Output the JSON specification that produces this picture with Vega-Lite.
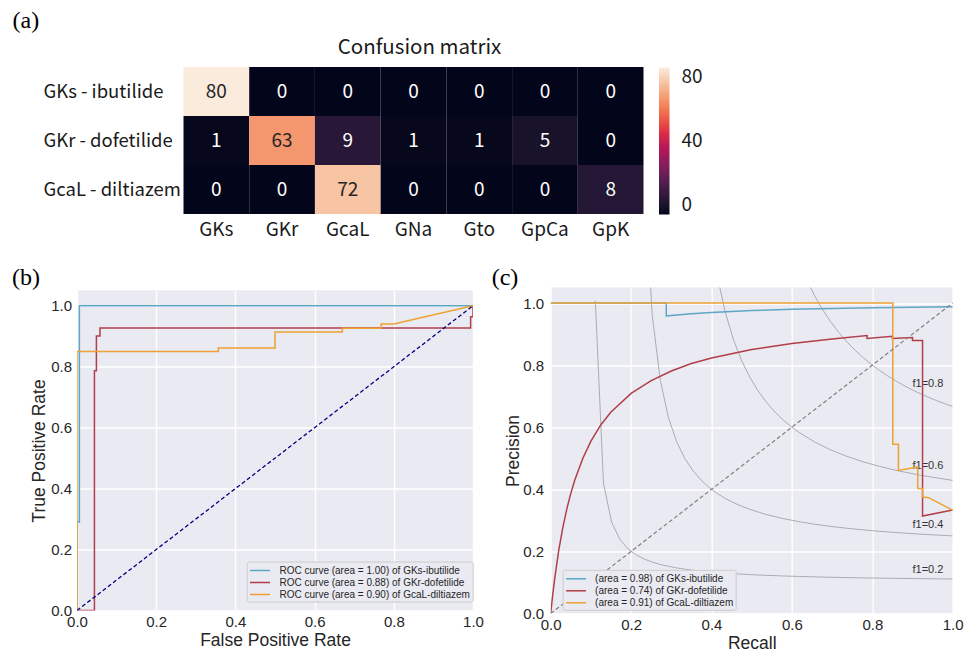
{
  "$schema": "https://vega.github.io/schema/vega-lite/v6.json",
  "padding": {"left": 12, "top": 8, "right": 4, "bottom": 0},
  "background": "white",
  "config": {
    "view": {"stroke": null},
    "axis": {"domain": false, "ticks": false, "labelFont": "Liberation Sans", "titleFont": "Liberation Sans", "labelColor": "#262626", "titleColor": "#262626", "titleFontWeight": "normal"},
    "legend": {"labelFont": "Liberation Sans"}
  },
  "datasets": {
    "heat": [
      {"actual": "GKs - ibutilide", "pred": "GKs", "count": 80},
      {"actual": "GKs - ibutilide", "pred": "GKr", "count": 0},
      {"actual": "GKs - ibutilide", "pred": "GcaL", "count": 0},
      {"actual": "GKs - ibutilide", "pred": "GNa", "count": 0},
      {"actual": "GKs - ibutilide", "pred": "Gto", "count": 0},
      {"actual": "GKs - ibutilide", "pred": "GpCa", "count": 0},
      {"actual": "GKs - ibutilide", "pred": "GpK", "count": 0},
      {"actual": "GKr - dofetilide", "pred": "GKs", "count": 1},
      {"actual": "GKr - dofetilide", "pred": "GKr", "count": 63},
      {"actual": "GKr - dofetilide", "pred": "GcaL", "count": 9},
      {"actual": "GKr - dofetilide", "pred": "GNa", "count": 1},
      {"actual": "GKr - dofetilide", "pred": "Gto", "count": 1},
      {"actual": "GKr - dofetilide", "pred": "GpCa", "count": 5},
      {"actual": "GKr - dofetilide", "pred": "GpK", "count": 0},
      {"actual": "GcaL - diltiazem", "pred": "GKs", "count": 0},
      {"actual": "GcaL - diltiazem", "pred": "GKr", "count": 0},
      {"actual": "GcaL - diltiazem", "pred": "GcaL", "count": 72},
      {"actual": "GcaL - diltiazem", "pred": "GNa", "count": 0},
      {"actual": "GcaL - diltiazem", "pred": "Gto", "count": 0},
      {"actual": "GcaL - diltiazem", "pred": "GpCa", "count": 0},
      {"actual": "GcaL - diltiazem", "pred": "GpK", "count": 8}
    ],
    "roc": [
      {"series": "ROC curve (area = 1.00) of GKs-ibutilide", "i": 0, "fpr": 0, "tpr": 0},
      {"series": "ROC curve (area = 1.00) of GKs-ibutilide", "i": 1, "fpr": 0, "tpr": 0.29},
      {"series": "ROC curve (area = 1.00) of GKs-ibutilide", "i": 2, "fpr": 0.006, "tpr": 0.29},
      {"series": "ROC curve (area = 1.00) of GKs-ibutilide", "i": 3, "fpr": 0.006, "tpr": 1.0},
      {"series": "ROC curve (area = 1.00) of GKs-ibutilide", "i": 4, "fpr": 1.0, "tpr": 1.0},
      {"series": "ROC curve (area = 0.88) of GKr-dofetilide", "i": 0, "fpr": 0, "tpr": 0},
      {"series": "ROC curve (area = 0.88) of GKr-dofetilide", "i": 1, "fpr": 0.044, "tpr": 0},
      {"series": "ROC curve (area = 0.88) of GKr-dofetilide", "i": 2, "fpr": 0.044, "tpr": 0.787},
      {"series": "ROC curve (area = 0.88) of GKr-dofetilide", "i": 3, "fpr": 0.049, "tpr": 0.787},
      {"series": "ROC curve (area = 0.88) of GKr-dofetilide", "i": 4, "fpr": 0.049, "tpr": 0.901},
      {"series": "ROC curve (area = 0.88) of GKr-dofetilide", "i": 5, "fpr": 0.058, "tpr": 0.901},
      {"series": "ROC curve (area = 0.88) of GKr-dofetilide", "i": 6, "fpr": 0.058, "tpr": 0.927},
      {"series": "ROC curve (area = 0.88) of GKr-dofetilide", "i": 7, "fpr": 0.994, "tpr": 0.927},
      {"series": "ROC curve (area = 0.88) of GKr-dofetilide", "i": 8, "fpr": 0.994, "tpr": 0.964},
      {"series": "ROC curve (area = 0.88) of GKr-dofetilide", "i": 9, "fpr": 1.0, "tpr": 0.964},
      {"series": "ROC curve (area = 0.88) of GKr-dofetilide", "i": 10, "fpr": 1.0, "tpr": 1.0},
      {"series": "ROC curve (area = 0.90) of GcaL-diltiazem", "i": 0, "fpr": 0, "tpr": 0},
      {"series": "ROC curve (area = 0.90) of GcaL-diltiazem", "i": 1, "fpr": 0, "tpr": 0.85},
      {"series": "ROC curve (area = 0.90) of GcaL-diltiazem", "i": 2, "fpr": 0.357, "tpr": 0.85},
      {"series": "ROC curve (area = 0.90) of GcaL-diltiazem", "i": 3, "fpr": 0.357, "tpr": 0.861},
      {"series": "ROC curve (area = 0.90) of GcaL-diltiazem", "i": 4, "fpr": 0.5, "tpr": 0.861},
      {"series": "ROC curve (area = 0.90) of GcaL-diltiazem", "i": 5, "fpr": 0.5, "tpr": 0.914},
      {"series": "ROC curve (area = 0.90) of GcaL-diltiazem", "i": 6, "fpr": 0.67, "tpr": 0.914},
      {"series": "ROC curve (area = 0.90) of GcaL-diltiazem", "i": 7, "fpr": 0.67, "tpr": 0.926},
      {"series": "ROC curve (area = 0.90) of GcaL-diltiazem", "i": 8, "fpr": 0.768, "tpr": 0.926},
      {"series": "ROC curve (area = 0.90) of GcaL-diltiazem", "i": 9, "fpr": 0.768, "tpr": 0.94},
      {"series": "ROC curve (area = 0.90) of GcaL-diltiazem", "i": 10, "fpr": 0.8, "tpr": 0.94},
      {"series": "ROC curve (area = 0.90) of GcaL-diltiazem", "i": 11, "fpr": 1.0, "tpr": 1.0}
    ],
    "pr": [
      {"series": "(area = 0.98) of GKs-ibutilide", "i": 0, "r": 0, "p": 1.0},
      {"series": "(area = 0.98) of GKs-ibutilide", "i": 1, "r": 0.2875, "p": 1.0},
      {"series": "(area = 0.98) of GKs-ibutilide", "i": 2, "r": 0.2875, "p": 0.9583},
      {"series": "(area = 0.98) of GKs-ibutilide", "i": 3, "r": 0.3, "p": 0.96},
      {"series": "(area = 0.98) of GKs-ibutilide", "i": 4, "r": 0.35, "p": 0.9655},
      {"series": "(area = 0.98) of GKs-ibutilide", "i": 5, "r": 0.4, "p": 0.9697},
      {"series": "(area = 0.98) of GKs-ibutilide", "i": 6, "r": 0.5, "p": 0.9756},
      {"series": "(area = 0.98) of GKs-ibutilide", "i": 7, "r": 0.6, "p": 0.9796},
      {"series": "(area = 0.98) of GKs-ibutilide", "i": 8, "r": 0.7, "p": 0.9825},
      {"series": "(area = 0.98) of GKs-ibutilide", "i": 9, "r": 0.8, "p": 0.9846},
      {"series": "(area = 0.98) of GKs-ibutilide", "i": 10, "r": 0.9, "p": 0.9863},
      {"series": "(area = 0.98) of GKs-ibutilide", "i": 11, "r": 1.0, "p": 0.9877},
      {"series": "(area = 0.74) of GKr-dofetilide", "i": 0, "r": 0, "p": 0},
      {"series": "(area = 0.74) of GKr-dofetilide", "i": 1, "r": 0.005, "p": 0.06},
      {"series": "(area = 0.74) of GKr-dofetilide", "i": 2, "r": 0.01, "p": 0.113},
      {"series": "(area = 0.74) of GKr-dofetilide", "i": 3, "r": 0.02, "p": 0.203},
      {"series": "(area = 0.74) of GKr-dofetilide", "i": 4, "r": 0.03, "p": 0.276},
      {"series": "(area = 0.74) of GKr-dofetilide", "i": 5, "r": 0.04, "p": 0.336},
      {"series": "(area = 0.74) of GKr-dofetilide", "i": 6, "r": 0.05, "p": 0.387},
      {"series": "(area = 0.74) of GKr-dofetilide", "i": 7, "r": 0.06, "p": 0.43},
      {"series": "(area = 0.74) of GKr-dofetilide", "i": 8, "r": 0.08, "p": 0.5},
      {"series": "(area = 0.74) of GKr-dofetilide", "i": 9, "r": 0.1, "p": 0.555},
      {"series": "(area = 0.74) of GKr-dofetilide", "i": 10, "r": 0.125, "p": 0.608},
      {"series": "(area = 0.74) of GKr-dofetilide", "i": 11, "r": 0.15, "p": 0.649},
      {"series": "(area = 0.74) of GKr-dofetilide", "i": 12, "r": 0.2, "p": 0.709},
      {"series": "(area = 0.74) of GKr-dofetilide", "i": 13, "r": 0.25, "p": 0.75},
      {"series": "(area = 0.74) of GKr-dofetilide", "i": 14, "r": 0.3, "p": 0.781},
      {"series": "(area = 0.74) of GKr-dofetilide", "i": 15, "r": 0.35, "p": 0.805},
      {"series": "(area = 0.74) of GKr-dofetilide", "i": 16, "r": 0.4, "p": 0.823},
      {"series": "(area = 0.74) of GKr-dofetilide", "i": 17, "r": 0.5, "p": 0.85},
      {"series": "(area = 0.74) of GKr-dofetilide", "i": 18, "r": 0.6, "p": 0.87},
      {"series": "(area = 0.74) of GKr-dofetilide", "i": 19, "r": 0.7, "p": 0.884},
      {"series": "(area = 0.74) of GKr-dofetilide", "i": 20, "r": 0.787, "p": 0.895},
      {"series": "(area = 0.74) of GKr-dofetilide", "i": 21, "r": 0.787, "p": 0.886},
      {"series": "(area = 0.74) of GKr-dofetilide", "i": 22, "r": 0.85, "p": 0.893},
      {"series": "(area = 0.74) of GKr-dofetilide", "i": 23, "r": 0.85, "p": 0.886},
      {"series": "(area = 0.74) of GKr-dofetilide", "i": 24, "r": 0.9, "p": 0.889},
      {"series": "(area = 0.74) of GKr-dofetilide", "i": 25, "r": 0.9, "p": 0.879},
      {"series": "(area = 0.74) of GKr-dofetilide", "i": 26, "r": 0.925, "p": 0.879},
      {"series": "(area = 0.74) of GKr-dofetilide", "i": 27, "r": 0.925, "p": 0.314},
      {"series": "(area = 0.74) of GKr-dofetilide", "i": 28, "r": 1.0, "p": 0.333},
      {"series": "(area = 0.91) of GcaL-diltiazem", "i": 0, "r": 0, "p": 1.0},
      {"series": "(area = 0.91) of GcaL-diltiazem", "i": 1, "r": 0.851, "p": 1.0},
      {"series": "(area = 0.91) of GcaL-diltiazem", "i": 2, "r": 0.851, "p": 0.545},
      {"series": "(area = 0.91) of GcaL-diltiazem", "i": 3, "r": 0.865, "p": 0.545},
      {"series": "(area = 0.91) of GcaL-diltiazem", "i": 4, "r": 0.865, "p": 0.461},
      {"series": "(area = 0.91) of GcaL-diltiazem", "i": 5, "r": 0.913, "p": 0.472},
      {"series": "(area = 0.91) of GcaL-diltiazem", "i": 6, "r": 0.913, "p": 0.403},
      {"series": "(area = 0.91) of GcaL-diltiazem", "i": 7, "r": 0.925, "p": 0.403},
      {"series": "(area = 0.91) of GcaL-diltiazem", "i": 8, "r": 0.925, "p": 0.375},
      {"series": "(area = 0.91) of GcaL-diltiazem", "i": 9, "r": 0.94, "p": 0.373},
      {"series": "(area = 0.91) of GcaL-diltiazem", "i": 10, "r": 1.0, "p": 0.333}
    ],
    "f1": [
      {"f": "0.2", "r": 0.1110, "p": 1.0074}, {"f": "0.2", "r": 0.1312, "p": 0.4203}, {"f": "0.2", "r": 0.1514, "p": 0.2944},
      {"f": "0.2", "r": 0.1716, "p": 0.2396}, {"f": "0.2", "r": 0.1918, "p": 0.2089}, {"f": "0.2", "r": 0.2120, "p": 0.1893},
      {"f": "0.2", "r": 0.2322, "p": 0.1756}, {"f": "0.2", "r": 0.2524, "p": 0.1656}, {"f": "0.2", "r": 0.2727, "p": 0.1579},
      {"f": "0.2", "r": 0.2929, "p": 0.1519}, {"f": "0.2", "r": 0.3131, "p": 0.1469}, {"f": "0.2", "r": 0.3333, "p": 0.1429},
      {"f": "0.2", "r": 0.3535, "p": 0.1395}, {"f": "0.2", "r": 0.3737, "p": 0.1365}, {"f": "0.2", "r": 0.3939, "p": 0.1340},
      {"f": "0.2", "r": 0.4141, "p": 0.1318}, {"f": "0.2", "r": 0.4545, "p": 0.1282}, {"f": "0.2", "r": 0.4949, "p": 0.1253},
      {"f": "0.2", "r": 0.5353, "p": 0.1230}, {"f": "0.2", "r": 0.5757, "p": 0.1210}, {"f": "0.2", "r": 0.6161, "p": 0.1194},
      {"f": "0.2", "r": 0.6767, "p": 0.1173}, {"f": "0.2", "r": 0.7373, "p": 0.1157}, {"f": "0.2", "r": 0.7980, "p": 0.1143},
      {"f": "0.2", "r": 0.8586, "p": 0.1132}, {"f": "0.2", "r": 0.9192, "p": 0.1122}, {"f": "0.2", "r": 1.0, "p": 0.1111},
      {"f": "0.4", "r": 0.2120, "p": 3.522}, {"f": "0.4", "r": 0.2322, "p": 1.4405}, {"f": "0.4", "r": 0.2524, "p": 0.9627},
      {"f": "0.4", "r": 0.2727, "p": 0.7506}, {"f": "0.4", "r": 0.2929, "p": 0.6308}, {"f": "0.4", "r": 0.3131, "p": 0.5538},
      {"f": "0.4", "r": 0.3333, "p": 0.5002}, {"f": "0.4", "r": 0.3535, "p": 0.4606}, {"f": "0.4", "r": 0.3737, "p": 0.4303},
      {"f": "0.4", "r": 0.3939, "p": 0.4063}, {"f": "0.4", "r": 0.4141, "p": 0.3869}, {"f": "0.4", "r": 0.4343, "p": 0.3707},
      {"f": "0.4", "r": 0.4545, "p": 0.3572}, {"f": "0.4", "r": 0.4747, "p": 0.3456}, {"f": "0.4", "r": 0.4949, "p": 0.3356},
      {"f": "0.4", "r": 0.5353, "p": 0.3193}, {"f": "0.4", "r": 0.5757, "p": 0.3065}, {"f": "0.4", "r": 0.6161, "p": 0.2961},
      {"f": "0.4", "r": 0.6565, "p": 0.2876}, {"f": "0.4", "r": 0.6969, "p": 0.2805}, {"f": "0.4", "r": 0.7373, "p": 0.2744},
      {"f": "0.4", "r": 0.7980, "p": 0.2669}, {"f": "0.4", "r": 0.8586, "p": 0.2607}, {"f": "0.4", "r": 0.9192, "p": 0.2556},
      {"f": "0.4", "r": 1.0, "p": 0.25},
      {"f": "0.6", "r": 0.3131, "p": 7.191}, {"f": "0.6", "r": 0.3333, "p": 3.0056}, {"f": "0.6", "r": 0.3535, "p": 1.9832},
      {"f": "0.6", "r": 0.3737, "p": 1.5216}, {"f": "0.6", "r": 0.3939, "p": 1.2587}, {"f": "0.6", "r": 0.4141, "p": 1.0889},
      {"f": "0.6", "r": 0.4343, "p": 0.9702}, {"f": "0.6", "r": 0.4545, "p": 0.8826}, {"f": "0.6", "r": 0.4747, "p": 0.8152},
      {"f": "0.6", "r": 0.4949, "p": 0.7618}, {"f": "0.6", "r": 0.5151, "p": 0.7184}, {"f": "0.6", "r": 0.5353, "p": 0.6825},
      {"f": "0.6", "r": 0.5555, "p": 0.6522}, {"f": "0.6", "r": 0.5757, "p": 0.6264}, {"f": "0.6", "r": 0.5959, "p": 0.6041},
      {"f": "0.6", "r": 0.6161, "p": 0.5847}, {"f": "0.6", "r": 0.6565, "p": 0.5524}, {"f": "0.6", "r": 0.6969, "p": 0.5267},
      {"f": "0.6", "r": 0.7373, "p": 0.5058}, {"f": "0.6", "r": 0.7778, "p": 0.4884}, {"f": "0.6", "r": 0.8182, "p": 0.4737},
      {"f": "0.6", "r": 0.8586, "p": 0.4611}, {"f": "0.6", "r": 0.9192, "p": 0.4454}, {"f": "0.6", "r": 1.0, "p": 0.4286},
      {"f": "0.8", "r": 0.4141, "p": 11.762}, {"f": "0.8", "r": 0.4343, "p": 5.0666}, {"f": "0.8", "r": 0.4545, "p": 3.3363},
      {"f": "0.8", "r": 0.4747, "p": 2.5421}, {"f": "0.8", "r": 0.4949, "p": 2.0860}, {"f": "0.8", "r": 0.5151, "p": 1.7901},
      {"f": "0.8", "r": 0.5353, "p": 1.5825}, {"f": "0.8", "r": 0.5555, "p": 1.4289}, {"f": "0.8", "r": 0.5757, "p": 1.3106},
      {"f": "0.8", "r": 0.5959, "p": 1.2167}, {"f": "0.8", "r": 0.6161, "p": 1.1403}, {"f": "0.8", "r": 0.6363, "p": 1.0770},
      {"f": "0.8", "r": 0.6565, "p": 1.0237}, {"f": "0.8", "r": 0.6767, "p": 0.9782}, {"f": "0.8", "r": 0.6969, "p": 0.9388},
      {"f": "0.8", "r": 0.7171, "p": 0.9045}, {"f": "0.8", "r": 0.7373, "p": 0.8743}, {"f": "0.8", "r": 0.7576, "p": 0.8475},
      {"f": "0.8", "r": 0.7778, "p": 0.8236}, {"f": "0.8", "r": 0.7980, "p": 0.8020}, {"f": "0.8", "r": 0.8182, "p": 0.7826},
      {"f": "0.8", "r": 0.8384, "p": 0.7650}, {"f": "0.8", "r": 0.8586, "p": 0.7489}, {"f": "0.8", "r": 0.8788, "p": 0.7342},
      {"f": "0.8", "r": 0.8990, "p": 0.7207}, {"f": "0.8", "r": 0.9192, "p": 0.7082}, {"f": "0.8", "r": 0.9394, "p": 0.6966},
      {"f": "0.8", "r": 0.9596, "p": 0.6859}, {"f": "0.8", "r": 0.9798, "p": 0.6760}, {"f": "0.8", "r": 1.0, "p": 0.6667}
    ],
    "f1lab": [
      {"label": "f1=0.2", "r": 0.9, "p": 0.132},
      {"label": "f1=0.4", "r": 0.9, "p": 0.2756},
      {"label": "f1=0.6", "r": 0.9, "p": 0.4654},
      {"label": "f1=0.8", "r": 0.9, "p": 0.7282}
    ]
  },
  "bounds": "flush",
  "spacing": 73.5,
  "resolve": {"scale": {"color": "independent"}, "legend": {"color": "independent"}},
  "vconcat": [
    {
      "width": 566.5,
      "height": 147,
      "data": {"name": "heat"},
      "encoding": {
        "x": {"field": "pred", "type": "nominal", "title": "Confusion matrix", "sort": ["GKs", "GKr", "GcaL", "GNa", "Gto", "GpCa", "GpK"], "scale": {"paddingInner": 0, "paddingOuter": 0, "range": [106.5, 566.5]},
              "axis": {"orient": "bottom", "labelAngle": 0, "labelPadding": 6, "labelFont": "Noto Sans CJK KR", "labelFontSize": 19, "labelColor": "#1a1a1a", "grid": false, "domain": false, "ticks": false,
                       "titleX": 342, "titleY": -160.5, "titleAngle": 0, "titleAlign": "center", "titleBaseline": "alphabetic", "titleFont": "Noto Sans CJK KR", "titleFontSize": 20.5, "titleFontWeight": "normal", "titleColor": "#1a1a1a"}},
        "y": {"field": "actual", "type": "nominal", "title": "(a)", "sort": ["GKs - ibutilide", "GKr - dofetilide", "GcaL - diltiazem"], "scale": {"paddingInner": 0, "paddingOuter": 0},
              "axis": {"labelAlign": "left", "labelPadding": 34, "labelFont": "Noto Sans CJK KR", "labelFontSize": 18.5, "labelColor": "#1a1a1a", "labelLimit": 300, "grid": false, "domain": false, "ticks": false,
                       "titleX": -65, "titleY": -39.5, "titleAngle": 0, "titleAlign": "left", "titleBaseline": "alphabetic", "titleFont": "Liberation Serif", "titleFontSize": 24, "titleFontWeight": "normal", "titleColor": "#000000"}}
      },
      "layer": [
        {
          "mark": {"type": "rect"},
          "encoding": {
            "color": {"field": "count", "type": "quantitative",
              "scale": {"domain": [0, 11.4286, 22.8571, 34.2857, 45.7143, 57.1429, 68.5714, 80], "range": ["#03051A", "#35193E", "#701F57", "#AD1759", "#E13342", "#F37651", "#F6B48F", "#FAEBDD"]},
              "legend": {"orient": "none", "legendX": 582, "legendY": 0.5, "direction": "vertical", "title": null, "gradientLength": 147, "gradientThickness": 10.5, "gradientStrokeWidth": 0, "values": [0, 40, 80], "labelFont": "Noto Sans CJK KR", "labelFontSize": 19, "labelColor": "#1a1a1a", "labelOffset": 12}}
          }
        },
        {
          "mark": {"type": "text", "font": "Noto Sans CJK KR", "fontSize": 19},
          "encoding": {
            "text": {"field": "count", "type": "quantitative"},
            "color": {"condition": {"test": "datum.count > 40", "value": "#262626"}, "value": "#ffffff"}
          }
        }
      ]
    },
    {
      "bounds": "flush",
      "spacing": 77.7,
      "center": true,
      "resolve": {"scale": {"color": "independent"}, "legend": {"color": "independent"}},
      "hconcat": [
        {
          "width": 396,
          "height": 320,
          "view": {"fill": "#EAEAF2", "stroke": null},
          "title": {"text": "(b)", "anchor": "start", "frame": "group", "orient": "top", "offset": 0, "dy": 18, "dx": -65, "baseline": "alphabetic", "font": "Liberation Serif", "fontSize": 24, "fontWeight": "normal", "color": "#000000"},
          "layer": [
            {
              "data": {"name": "roc"},
              "mark": {"type": "line", "strokeWidth": 1.5, "clip": true},
              "encoding": {
                "x": {"field": "fpr", "type": "quantitative", "title": "False Positive Rate", "scale": {"domain": [0, 1], "nice": false},
                      "axis": {"values": [0, 0.2, 0.4, 0.6, 0.8, 1.0], "format": ".1f", "grid": true, "gridColor": "#ffffff", "gridWidth": 1.3, "labelFontSize": 15, "titleFontSize": 17.5, "labelPadding": 4, "titlePadding": 2.2, "labelFlush": false, "labelOverlap": false}},
                "y": {"field": "tpr", "type": "quantitative", "title": "True Positive Rate", "scale": {"domain": [0, 1.05], "nice": false},
                      "axis": {"values": [0, 0.2, 0.4, 0.6, 0.8, 1.0], "format": ".1f", "grid": true, "gridColor": "#ffffff", "gridWidth": 1.3, "labelFontSize": 15, "titleFontSize": 17.5, "labelPadding": 5.5, "titlePadding": 2, "labelFlush": false, "labelOverlap": false}},
                "color": {"field": "series", "type": "nominal",
                  "scale": {"domain": ["ROC curve (area = 1.00) of GKs-ibutilide", "ROC curve (area = 0.88) of GKr-dofetilide", "ROC curve (area = 0.90) of GcaL-diltiazem"], "range": ["#5DA6C6", "#B13F49", "#EFA131"]},
                  "legend": {"orient": "none", "legendX": 169.7, "legendY": 271, "title": null, "symbolType": "M-1.6,0H1.6", "symbolSize": 156, "symbolStrokeWidth": 1.5, "labelFont": "Liberation Sans", "labelFontSize": 10, "labelColor": "#262626", "labelLimit": 300, "padding": 2, "rowPadding": 0, "symbolOffset": 4.3, "labelOffset": 12.5, "fillColor": "#EAEAF2", "strokeColor": "#CCCCCC", "cornerRadius": 2}},
                "order": {"field": "i", "type": "quantitative"}
              }
            },
            {
              "data": {"values": [{"fpr": 0, "tpr": 0}, {"fpr": 1, "tpr": 1}]},
              "mark": {"type": "line", "color": "#000080", "strokeWidth": 1.3, "strokeDash": [4, 2.5], "clip": true},
              "encoding": {
                "x": {"field": "fpr", "type": "quantitative", "title": "False Positive Rate"},
                "y": {"field": "tpr", "type": "quantitative", "title": "True Positive Rate"}
              }
            }
          ]
        },
        {
          "width": 402,
          "height": 326,
          "view": {"fill": "#EAEAF2", "stroke": null},
          "title": {"text": "(c)", "anchor": "start", "frame": "group", "orient": "top", "offset": 0, "dy": 21, "dx": -59, "baseline": "alphabetic", "font": "Liberation Serif", "fontSize": 24, "fontWeight": "normal", "color": "#000000"},
          "layer": [
            {
              "data": {"name": "f1"},
              "mark": {"type": "line", "color": "#ABABB3", "strokeWidth": 1, "clip": true},
              "encoding": {
                "x": {"field": "r", "type": "quantitative", "title": "Recall", "scale": {"domain": [0, 1], "nice": false},
                      "axis": {"values": [0, 0.2, 0.4, 0.6, 0.8, 1.0], "format": ".1f", "grid": true, "gridColor": "#ffffff", "gridWidth": 1.3, "labelFontSize": 15, "titleFontSize": 17.5, "labelPadding": 4, "titlePadding": 2, "labelFlush": false, "labelOverlap": false}},
                "y": {"field": "p", "type": "quantitative", "title": "Precision", "scale": {"domain": [0, 1.05], "nice": false},
                      "axis": {"values": [0, 0.2, 0.4, 0.6, 0.8, 1.0], "format": ".1f", "grid": true, "gridColor": "#ffffff", "gridWidth": 1.3, "labelFontSize": 15, "titleFontSize": 17.5, "labelPadding": 7, "titlePadding": 0.5, "labelFlush": false, "labelOverlap": false}},
                "detail": {"field": "f", "type": "nominal"}
              }
            },
            {
              "data": {"name": "f1lab"},
              "mark": {"type": "text", "align": "left", "baseline": "alphabetic", "font": "Liberation Sans", "fontSize": 11, "color": "#333333"},
              "encoding": {
                "x": {"field": "r", "type": "quantitative", "title": "Recall"},
                "y": {"field": "p", "type": "quantitative", "title": "Precision"},
                "text": {"field": "label", "type": "nominal"}
              }
            },
            {
              "data": {"name": "pr"},
              "mark": {"type": "line", "strokeWidth": 1.5, "clip": true},
              "encoding": {
                "x": {"field": "r", "type": "quantitative", "title": "Recall"},
                "y": {"field": "p", "type": "quantitative", "title": "Precision"},
                "color": {"field": "series", "type": "nominal",
                  "scale": {"domain": ["(area = 0.98) of GKs-ibutilide", "(area = 0.74) of GKr-dofetilide", "(area = 0.91) of GcaL-diltiazem"], "range": ["#5DA6C6", "#B13F49", "#EFA131"]},
                  "legend": {"orient": "none", "legendX": 12, "legendY": 282.3, "title": null, "symbolType": "M-1.6,0H1.6", "symbolSize": 156, "symbolStrokeWidth": 1.5, "labelFont": "Liberation Sans", "labelFontSize": 10, "labelColor": "#262626", "labelLimit": 300, "padding": 2, "rowPadding": 0, "symbolOffset": 4.4, "labelOffset": 12, "fillColor": "#EAEAF2", "strokeColor": "#CCCCCC", "cornerRadius": 2}},
                "order": {"field": "i", "type": "quantitative"}
              }
            },
            {
              "data": {"values": [{"r": 0, "p": 0}, {"r": 1, "p": 1}]},
              "mark": {"type": "line", "color": "#808080", "strokeWidth": 1.2, "strokeDash": [4, 2.5], "clip": true},
              "encoding": {
                "x": {"field": "r", "type": "quantitative", "title": "Recall"},
                "y": {"field": "p", "type": "quantitative", "title": "Precision"}
              }
            }
          ]
        }
      ]
    }
  ]
}
